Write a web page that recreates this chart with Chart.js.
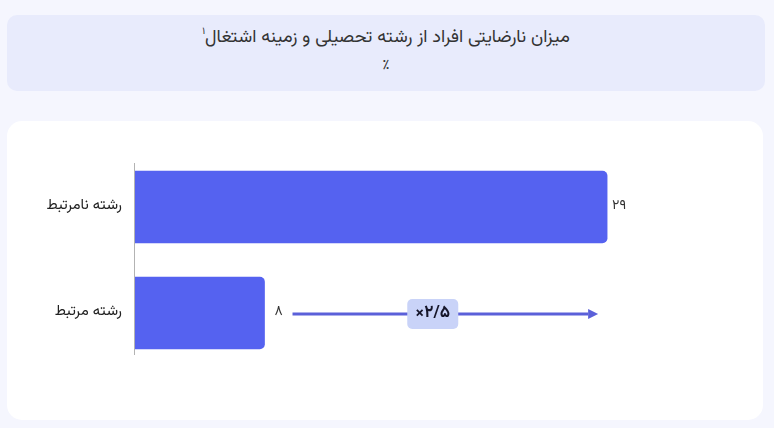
<!DOCTYPE html>
<html lang="fa">
<head>
<meta charset="utf-8">
<script src="https://cdn.jsdelivr.net/npm/chart.js@4/dist/chart.umd.min.js"></script>
<style>
  html, body { margin: 0; padding: 0; }
  body {
    width: 774px; height: 428px; background: #f5f6fe; position: relative; overflow: hidden;
    font-family: "Vazirmatn", "Noto Sans Arabic", "DejaVu Sans", sans-serif;
  }
  .title-box {
    position: absolute; left: 7px; top: 15px; width: 758px; height: 76px;
    background: #e8ebfc; border-radius: 10px; text-align: center; color: #333;
    direction: rtl;
  }
  .title-box .t1 { position: absolute; left: 0; right: 0; top: 10px; font-size: 18px; line-height: 26px; }
  .title-box .t1 sup { font-size: 10px; vertical-align: 8px; line-height: 0; }
  .title-box .t2 { position: absolute; left: 0; right: 0; top: 41px; font-size: 15px; line-height: 20px; }
  .card {
    position: absolute; left: 7px; top: 121px; width: 756px; height: 299px;
    background: #ffffff; border-radius: 15px;
  }
  .card .wrap { position: absolute; left: 0; top: 0; width: 756px; height: 299px; }
</style>
</head>
<body>
<div class="title-box">
  <div class="t1">میزان نارضایتی افراد از رشته تحصیلی و زمینه اشتغال<sup>۱</sup></div>
  <div class="t2">٪</div>
</div>
<div class="card">
  <div class="wrap"><canvas id="chart"></canvas></div>
</div>
<script>
// data
const categories = ['رشته نامرتبط', 'رشته مرتبط'];
const values = [29, 8];
const valueLabels = ['۲۹', '۸'];
const ratioLabel = '×۲/۵';
const xMax = 35;

const fontFamily = '"Vazirmatn", "Noto Sans Arabic", "DejaVu Sans", sans-serif';

// axis line, value labels and the ratio arrow
const extras = {
  id: 'extras',
  afterDatasetsDraw(chart) {
    const ctx = chart.ctx;
    const area = chart.chartArea;
    const xs = chart.scales.x;
    const meta = chart.getDatasetMeta(0);

    ctx.save();
    ctx.strokeStyle = '#b3b3b3';
    ctx.lineWidth = 1;
    ctx.beginPath();
    ctx.moveTo(area.left + 0.5, area.top + 9);
    ctx.lineTo(area.left + 0.5, area.bottom - 11);
    ctx.stroke();

    ctx.fillStyle = '#333';
    ctx.font = '14px ' + fontFamily;
    ctx.textBaseline = 'middle';
    ctx.textAlign = 'left';
    meta.data.forEach(function(bar, i) {
      ctx.fillText(valueLabels[i], bar.x + (i === 0 ? 5 : 10), bar.y);
    });

    // arrow from the small bar up to the big bar's length
    const y = meta.data[1].y + 1;
    const x0 = xs.getPixelForValue(values[1]) + 28;
    const x1 = xs.getPixelForValue(values[0]) - 13;
    ctx.strokeStyle = '#5b60d9';
    ctx.fillStyle = '#5b60d9';
    ctx.lineWidth = 3;
    ctx.beginPath();
    ctx.moveTo(x0, y);
    ctx.lineTo(x1 - 6, y);
    ctx.stroke();
    ctx.beginPath();
    ctx.moveTo(x1 + 4, y);
    ctx.lineTo(x1 - 6, y - 5);
    ctx.lineTo(x1 - 6, y + 5);
    ctx.closePath();
    ctx.fill();

    const cx = x0 + (x1 - x0) * 0.465;
    const w = 51, h = 30;
    ctx.fillStyle = '#c9d3f8';
    ctx.beginPath();
    ctx.roundRect(cx - w / 2, y - h / 2, w, h, 5);
    ctx.fill();
    ctx.fillStyle = '#16162a';
    ctx.font = 'bold 17px ' + fontFamily;
    ctx.textAlign = 'center';
    ctx.fillText(ratioLabel, cx, y);
    ctx.restore();
  }
};

new Chart(document.getElementById('chart'), {
  type: 'bar',
  data: {
    labels: categories,
    datasets: [{
      data: values,
      backgroundColor: '#5562f0',
      borderRadius: 5,
      barThickness: 72
    }]
  },
  options: {
    indexAxis: 'y',
    responsive: true,
    maintainAspectRatio: false,
    animation: false,
    layout: { padding: { top: 33, bottom: 54, left: 0, right: 58 } },
    plugins: { legend: { display: false }, tooltip: { enabled: false } },
    scales: {
      x: { display: false, min: 0, max: xMax },
      y: {
        grid: { display: false, drawTicks: false },
        border: { display: false },
        ticks: { color: '#222', padding: 12, font: { size: 15, family: fontFamily } },
        afterFit(scale) { scale.width = 127; }
      }
    }
  },
  plugins: [extras]
});
</script>
</body>
</html>
